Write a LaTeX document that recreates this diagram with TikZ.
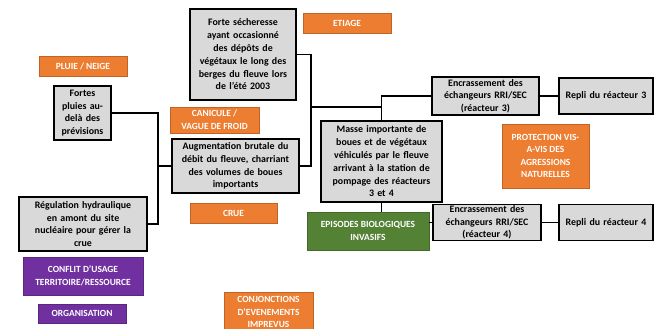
\documentclass[tikz,border=0pt]{standalone}
\usepackage{fontspec}
\setmainfont{Carlito}
\definecolor{boxgray}{HTML}{D9D9D9}
\definecolor{orng}{HTML}{ED7D31}
\definecolor{purp}{HTML}{7030A0}
\definecolor{grn}{HTML}{548235}
\tikzset{
  gbox/.style={draw=black, line width=1.4pt, fill=boxgray, align=center, inner sep=0pt,
    font=\bfseries\fontsize{9.9}{12.8}\selectfont, text=black},
  tag/.style={draw=#1!80!black, line width=0.5pt, fill=#1, align=center, inner sep=0pt,
    font=\bfseries\fontsize{9.4}{12.6}\selectfont, text=white},
  conn/.style={draw=black, line width=1.4pt}
}
\begin{document}
\begin{tikzpicture}[x=1pt,y=-1pt]
\useasboundingbox (0,0) rectangle (657,329);
% gray boxes
\node[gbox, minimum width=57pt, minimum height=54pt, text width=55pt] (pluies) at (82.5,113) {Fortes\\pluies au-\\delà des\\prévisions};
\node[gbox, minimum width=106pt, minimum height=91pt, text width=104pt] (sech) at (243,54.5) {Forte sécheresse\\ayant occasionné\\des dépôts de\\végétaux le long des\\berges du fleuve lors\\de l’été 2003};
\node[gbox, minimum width=127pt, minimum height=54pt, text width=125pt] (augm) at (235.5,166) {Augmentation brutale du\\débit du fleuve, charriant\\des volumes de boues\\importants};
\node[gbox, minimum width=128pt, minimum height=54pt, text width=126pt] (regul) at (83,224) {Régulation hydraulique\\en amont du site\\nucléaire pour gérer la\\crue};
\node[gbox, minimum width=121pt, minimum height=81pt, text width=119pt] (masse) at (381.5,161.5) {Masse importante de\\boues et de végétaux\\véhiculés par le fleuve\\arrivant à la station de\\pompage des réacteurs\\3 et 4};
\node[gbox, minimum width=107pt, minimum height=38pt, text width=105pt, font=\bfseries\fontsize{9.9}{12.4}\selectfont] (enc3) at (485.5,96) {Encrassement des\\échangeurs RRI/SEC\\(réacteur 3)};
\node[gbox, minimum width=94pt, minimum height=36pt, text width=92pt] (repli3) at (606,96) {Repli du réacteur 3};
\node[gbox, minimum width=108pt, minimum height=36pt, text width=106pt, font=\bfseries\fontsize{9.9}{12.4}\selectfont] (enc4) at (487,222.5) {Encrassement des\\échangeurs RRI/SEC\\(réacteur 4)};
\node[gbox, minimum width=94pt, minimum height=36pt, text width=92pt] (repli4) at (606,222.5) {Repli du réacteur 4};
% tags
\node[tag=orng, minimum width=88pt, minimum height=20pt] (pluie) at (83,66) {PLUIE / NEIGE};
\node[tag=orng, minimum width=88pt, minimum height=20pt] (etiage) at (347,23) {ETIAGE};
\node[tag=orng, minimum width=89pt, minimum height=26pt] (canic) at (214.5,120) {CANICULE /\\VAGUE DE FROID};
\node[tag=orng, minimum width=87pt, minimum height=20pt] (crue) at (233.5,213) {CRUE};
\node[tag=purp, minimum width=120pt, minimum height=38pt] (conflit) at (83,276) {CONFLIT D’USAGE\\TERRITOIRE/RESSOURCE};
\node[tag=purp, minimum width=88pt, minimum height=19pt] (orga) at (82,313.5) {ORGANISATION};
\node[tag=orng, minimum width=89pt, minimum height=40pt, anchor=north] (conj) at (268.5,292) {CONJONCTIONS\\D’EVENEMENTS\\IMPREVUS};
\node[tag=orng, minimum width=87pt, minimum height=64pt] (protec) at (545.5,156) {PROTECTION VIS-\\A-VIS DES\\AGRESSIONS\\NATURELLES};
\node[tag=grn, minimum width=122pt, minimum height=38pt] (bio) at (368,231) {EPISODES BIOLOGIQUES\\INVASIFS};
% connectors
\coordinate (jL) at (158,166);
\coordinate (jR) at (311,166);
\coordinate (jM) at (311,107);
\draw[conn] (pluies.east) -| (jL) |- (regul.east);
\draw[conn] (jL) -- (augm.west);
\draw[conn] (sech.east) -| (jR) -- (augm.east);
\draw[conn] (jM) -- (jM -| masse.north);
\draw[conn] (enc3.west) -| (masse.north);
\draw[conn] (enc3.east) -- (repli3.west);
\draw[conn] (masse.south) -- (masse.south |- bio.north);
\draw[conn] (enc4.west) -- (enc4.west -| bio.east);
\draw[conn] (enc4.east) -- (repli4.west);
\end{tikzpicture}
\end{document}
